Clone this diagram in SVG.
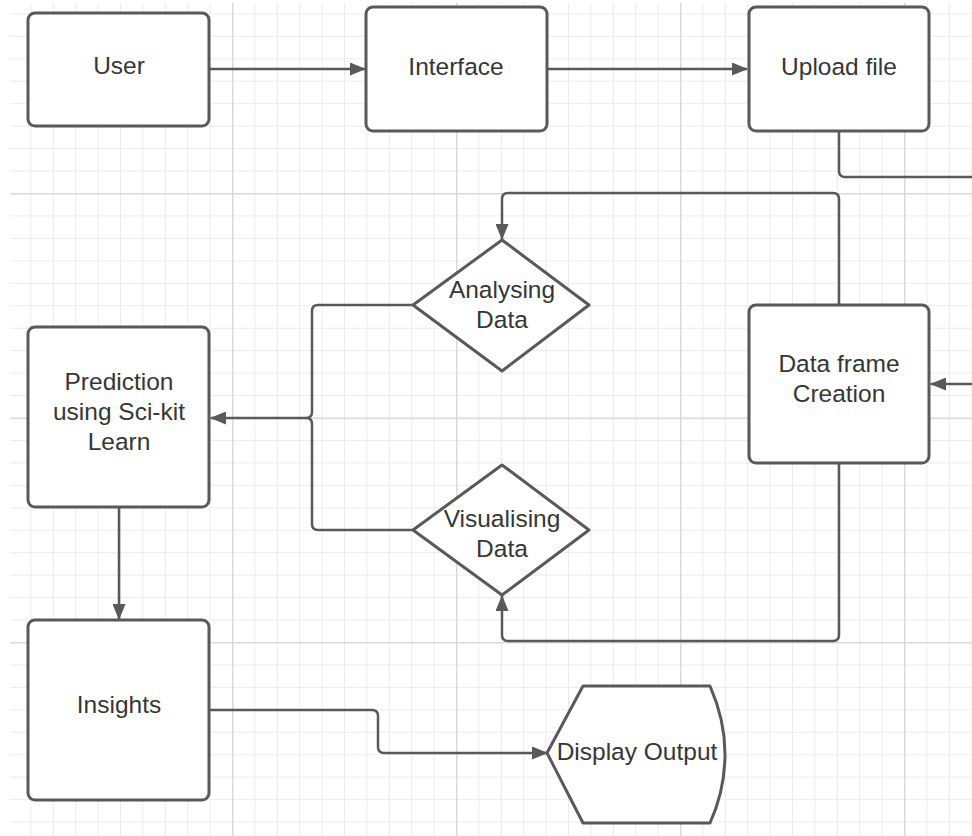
<svg xmlns="http://www.w3.org/2000/svg" width="972" height="836" viewBox="0 0 972 836">
<style>
.node{fill:#ffffff;stroke:#595959;stroke-width:3;stroke-linejoin:round}
.lbl{font-family:"Liberation Sans",Arial,sans-serif;font-size:24.5px;fill:#363636;text-anchor:middle}
.conn{fill:none;stroke:#595959;stroke-width:2.5;stroke-linejoin:round}
</style>
<defs>
<pattern id="minor" patternUnits="userSpaceOnUse" x="8" y="-31.5" width="22.4" height="22.45">
<path d="M0,0 H22.4 M0,0 V22.45" stroke="#ebebeb" stroke-width="2" fill="none"/>
</pattern>
<pattern id="major" patternUnits="userSpaceOnUse" x="8" y="-31.5" width="224" height="224.5">
<path d="M0,0 H224 M0,0 V224.5" stroke="#d9d9d9" stroke-width="3" fill="none"/>
</pattern>
<marker id="arr" viewBox="0 0 16 13" refX="15" refY="6.5" markerWidth="16" markerHeight="13" markerUnits="userSpaceOnUse" orient="auto">
<path d="M0,0 L16,6.5 L0,13 Z" fill="#595959"/>
</marker>
</defs>
<rect width="972" height="836" fill="#ffffff"/>
<rect x="10" y="3" width="962" height="833" fill="url(#minor)"/>
<rect x="10" y="3" width="962" height="833" fill="url(#major)"/>

<g id="connectors">
<path class="conn" d="M209,69 H365" marker-end="url(#arr)"/>
<path class="conn" d="M547,69 H747" marker-end="url(#arr)"/>
<path class="conn" d="M839,131 V171 Q839,177 845,177 H972"/>
<path class="conn" d="M972,384 H931" marker-end="url(#arr)"/>
<path class="conn" d="M839,305 V199 Q839,193 833,193 H508 Q502,193 502,199 V239" marker-end="url(#arr)"/>
<path class="conn" d="M839,463 V635 Q839,641 833,641 H508 Q502,641 502,635 V596" marker-end="url(#arr)"/>
<path class="conn" d="M413,305 H318 Q312,305 312,311 V412 Q312,418 306,418"/>
<path class="conn" d="M413,530 H318 Q312,530 312,524 V424 Q312,418 306,418 H211" marker-end="url(#arr)"/>
<path class="conn" d="M119,507 V619" marker-end="url(#arr)"/>
<path class="conn" d="M209,710 H372 Q378,710 378,716 V747 Q378,753 384,753 H547" marker-end="url(#arr)"/>
</g>

<g id="user">
<rect class="node" x="28" y="13" width="181" height="113" rx="7"/>
<text class="lbl" x="119" y="74">User</text>
</g>
<g id="interface">
<rect class="node" x="366" y="7" width="181" height="124" rx="7"/>
<text class="lbl" x="456" y="75">Interface</text>
</g>
<g id="upload-file">
<rect class="node" x="749" y="7" width="180" height="124" rx="7"/>
<text class="lbl" x="839" y="75">Upload file</text>
</g>
<g id="data-frame-creation">
<rect class="node" x="749" y="305" width="180" height="158" rx="7"/>
<text class="lbl" x="839" y="372">Data frame</text>
<text class="lbl" x="839" y="402">Creation</text>
</g>
<g id="analysing-data">
<path class="node" d="M502,240 L589,305 L502,371 L413,305 Z"/>
<text class="lbl" x="502" y="298">Analysing</text>
<text class="lbl" x="502" y="328">Data</text>
</g>
<g id="visualising-data">
<path class="node" d="M502,465 L589,530 L502,595 L413,530 Z"/>
<text class="lbl" x="502" y="527">Visualising</text>
<text class="lbl" x="502" y="557">Data</text>
</g>
<g id="prediction">
<rect class="node" x="28" y="327" width="181" height="180" rx="7"/>
<text class="lbl" x="119" y="390">Prediction</text>
<text class="lbl" x="119" y="420">using Sci-kit</text>
<text class="lbl" x="119" y="450">Learn</text>
</g>
<g id="insights">
<rect class="node" x="28" y="620" width="181" height="180" rx="7"/>
<text class="lbl" x="119" y="713">Insights</text>
</g>
<g id="display-output">
<path class="node" d="M583,686 H710 Q725,720 725,754 Q725,790 710,823 H583 L547,753 Z"/>
<text class="lbl" x="637" y="760">Display Output</text>
</g>
</svg>
